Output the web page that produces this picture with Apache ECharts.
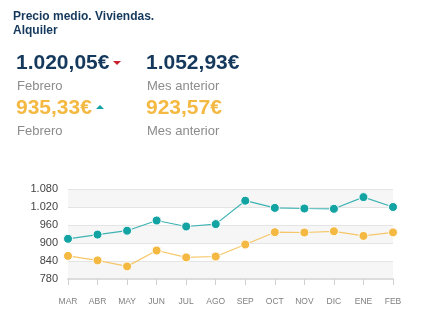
<!DOCTYPE html>
<html><head><meta charset="utf-8">
<script src="https://cdn.jsdelivr.net/npm/echarts@6/dist/echarts.min.js"></script>
<style>html,body{margin:0;padding:0;background:#fff}#c{width:437px;height:323px}</style>
</head><body><div id="c"></div>
<script>
var categories = ['MAR','ABR','MAY','JUN','JUL','AGO','SEP','OCT','NOV','DIC','ENE','FEB'];
var viviendas = [914, 928, 941, 975, 955, 963, 1041, 1017, 1015, 1014, 1052.93, 1020.05];
var otros = [857, 842, 822, 875, 852, 855, 895, 936, 935, 939, 923.57, 935.33];
var yTicks = [780, 840, 900, 960, 1020, 1080];
var title1 = 'Precio medio. Viviendas.';
var title2 = 'Alquiler';
var kpi = {cur1:'1.020,05€', prev1:'1.052,93€', cur2:'935,33€', prev2:'923,57€', lblCur:'Febrero', lblPrev:'Mes anterior'};

var navy = '#15395c', teal = '#14a3a3', orange = '#f4b942', grey = '#8c8c8c';
var FF = 'Liberation Sans, Arial, sans-serif';
function fmt(v){ return String(v).replace(/\B(?=(\d{3})+(?!\d))/g,'.'); }

var chart = echarts.init(document.getElementById('c'), null, {renderer:'canvas'});
chart.setOption({
  animation:false,
  backgroundColor:'#fff',
  grid:{left:68, right:44, top:189, bottom:44},
  xAxis:{type:'category', data:categories, boundaryGap:false,
    axisLine:{lineStyle:{color:'#dddddd', width:2}},
    axisTick:{show:true, length:6, lineStyle:{color:'#d0d0d0'}},
    axisLabel:{color:'#808080', fontSize:8.5, fontFamily:FF, margin:18},
    splitLine:{show:false}},
  yAxis:{type:'value', min:yTicks[0], max:yTicks[yTicks.length-1], interval:60,
    axisLine:{show:false}, axisTick:{show:false},
    axisLabel:{color:'#444', fontSize:11, fontFamily:FF, margin:10, formatter:fmt},
    splitLine:{show:true, lineStyle:{color:'#e4e4e4', width:1}},
    splitArea:{show:true, areaStyle:{color:['#f6f6f6','#ffffff']}}},
  series:[
    {type:'line', data:viviendas, symbol:'circle', symbolSize:9,
      lineStyle:{color:'#3fb3b3', width:1.2},
      itemStyle:{color:teal, borderColor:'#fff', borderWidth:1}},
    {type:'line', data:otros, symbol:'circle', symbolSize:9,
      lineStyle:{color:'#f6c768', width:1.2},
      itemStyle:{color:orange, borderColor:'#fff', borderWidth:1}}
  ],
  graphic:[
    {type:'text', left:13, top:11, style:{text:title1, fill:navy, font:'bold 12px '+FF}},
    {type:'text', left:13, top:25, style:{text:title2, fill:navy, font:'bold 12px '+FF}},
    {type:'text', left:16, top:53, style:{text:kpi.cur1, fill:navy, font:'bold 21px '+FF}},
    {type:'polygon', shape:{points:[[113,61],[121,61],[117,65]]}, style:{fill:'#c9202c'}},
    {type:'text', left:17, top:80, style:{text:kpi.lblCur, fill:grey, font:'13px '+FF}},
    {type:'text', left:16, top:98, style:{text:kpi.cur2, fill:orange, font:'bold 21px '+FF}},
    {type:'polygon', shape:{points:[[96,109],[104,109],[100,105]]}, style:{fill:teal}},
    {type:'text', left:17, top:125, style:{text:kpi.lblCur, fill:grey, font:'13px '+FF}},
    {type:'text', left:146, top:53, style:{text:kpi.prev1, fill:navy, font:'bold 21px '+FF}},
    {type:'text', left:147, top:80, style:{text:kpi.lblPrev, fill:grey, font:'13px '+FF}},
    {type:'text', left:146, top:98, style:{text:kpi.prev2, fill:orange, font:'bold 21px '+FF}},
    {type:'text', left:147, top:125, style:{text:kpi.lblPrev, fill:grey, font:'13px '+FF}}
  ]
});
</script></body></html>
